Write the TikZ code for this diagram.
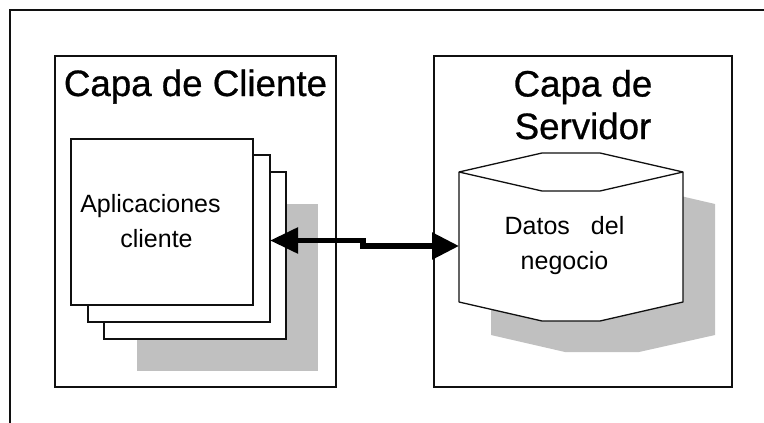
\documentclass[tikz,border=0pt]{standalone}
\usepackage{fontspec}
\setmainfont{Liberation Sans}
\newfontfamily\titlefont[FakeBold=0.8]{Liberation Sans}
\usetikzlibrary{arrows.meta}
\definecolor{shadowgrey}{HTML}{C0C0C0}
\definecolor{ink}{HTML}{101010}
\tikzset{
  box/.style={draw=ink,line width=1.5pt,fill=white,anchor=north west,inner sep=0pt,outer sep=0pt},
  shadowbox/.style={fill=shadowgrey,anchor=north west,inner sep=0pt,outer sep=0pt},
  title/.style={font=\titlefont\fontsize{36.7}{42.5}\selectfont,align=center,anchor=base,inner sep=0pt,text=black},
  label/.style={font=\fontsize{25}{34.5}\selectfont,align=center,anchor=base,inner sep=0pt,text=black},
  link/.style={draw=black,line width=5.5pt,{Triangle[length=28pt,width=25pt]}-{Triangle[length=27pt,width=26pt]}},
  cyl/.style={draw=ink,line width=1.3pt,fill=white,line join=round}
}
\begin{document}
\begin{tikzpicture}[x=1pt,y=-1pt]
\useasboundingbox (0,0) rectangle (764,423);
\fill[white] (0,0) rectangle (764,423);
% outer frame: only top and left edges are visible
\draw[draw=ink,line width=2pt] (10,423) -- (10,9.5) -- (764,9.5);
% client layer
\node[box,minimum width=281pt,minimum height=331pt] (client) at (55,56) {};
\node[shadowbox,minimum width=181pt,minimum height=167pt] (appshadow) at (137,204) {};
\node[box,minimum width=182pt,minimum height=167pt] (sheetc) at (104,172) {};
\node[box,minimum width=182pt,minimum height=167pt] (sheetb) at (88,155) {};
\node[box,minimum width=182pt,minimum height=166pt] (sheeta) at (71,139) {};
\node[title] (clienttitle) at (195.5,96) {Capa de Cliente};
\node[label] (applabel) at (150.5,247) {Aplicaciones\\\hspace{12pt}cliente};
% server layer
\node[box,minimum width=298pt,minimum height=331pt] (server) at (434,56) {};
\node[title] (servertitle) at (583,139) {Capa de\\Servidor};
\fill[shadowgrey] (491,204) -- (573,185) -- (633,185) -- (715,204) -- (715,335) -- (639,352) -- (565,352) -- (491,335) -- cycle;
\path[cyl] (459,172) -- (542,153) -- (600,153) -- (683,172) -- (683,302) -- (600,321) -- (542,321) -- (459,302) -- cycle;
\draw[cyl,fill=none] (459,172) -- (542,191) -- (600,191) -- (683,172);
\node[label] (dblabel) at (564.5,269) {Datos\hspace{21pt}del\\negocio};
% connector
\coordinate (apptip) at (sheetb.east |- 0,240.5);
\coordinate (dbtip) at (459,246);
\draw[link] (apptip) -- (363,240.5) -- (363,246) -- (dbtip);
\end{tikzpicture}
\end{document}
